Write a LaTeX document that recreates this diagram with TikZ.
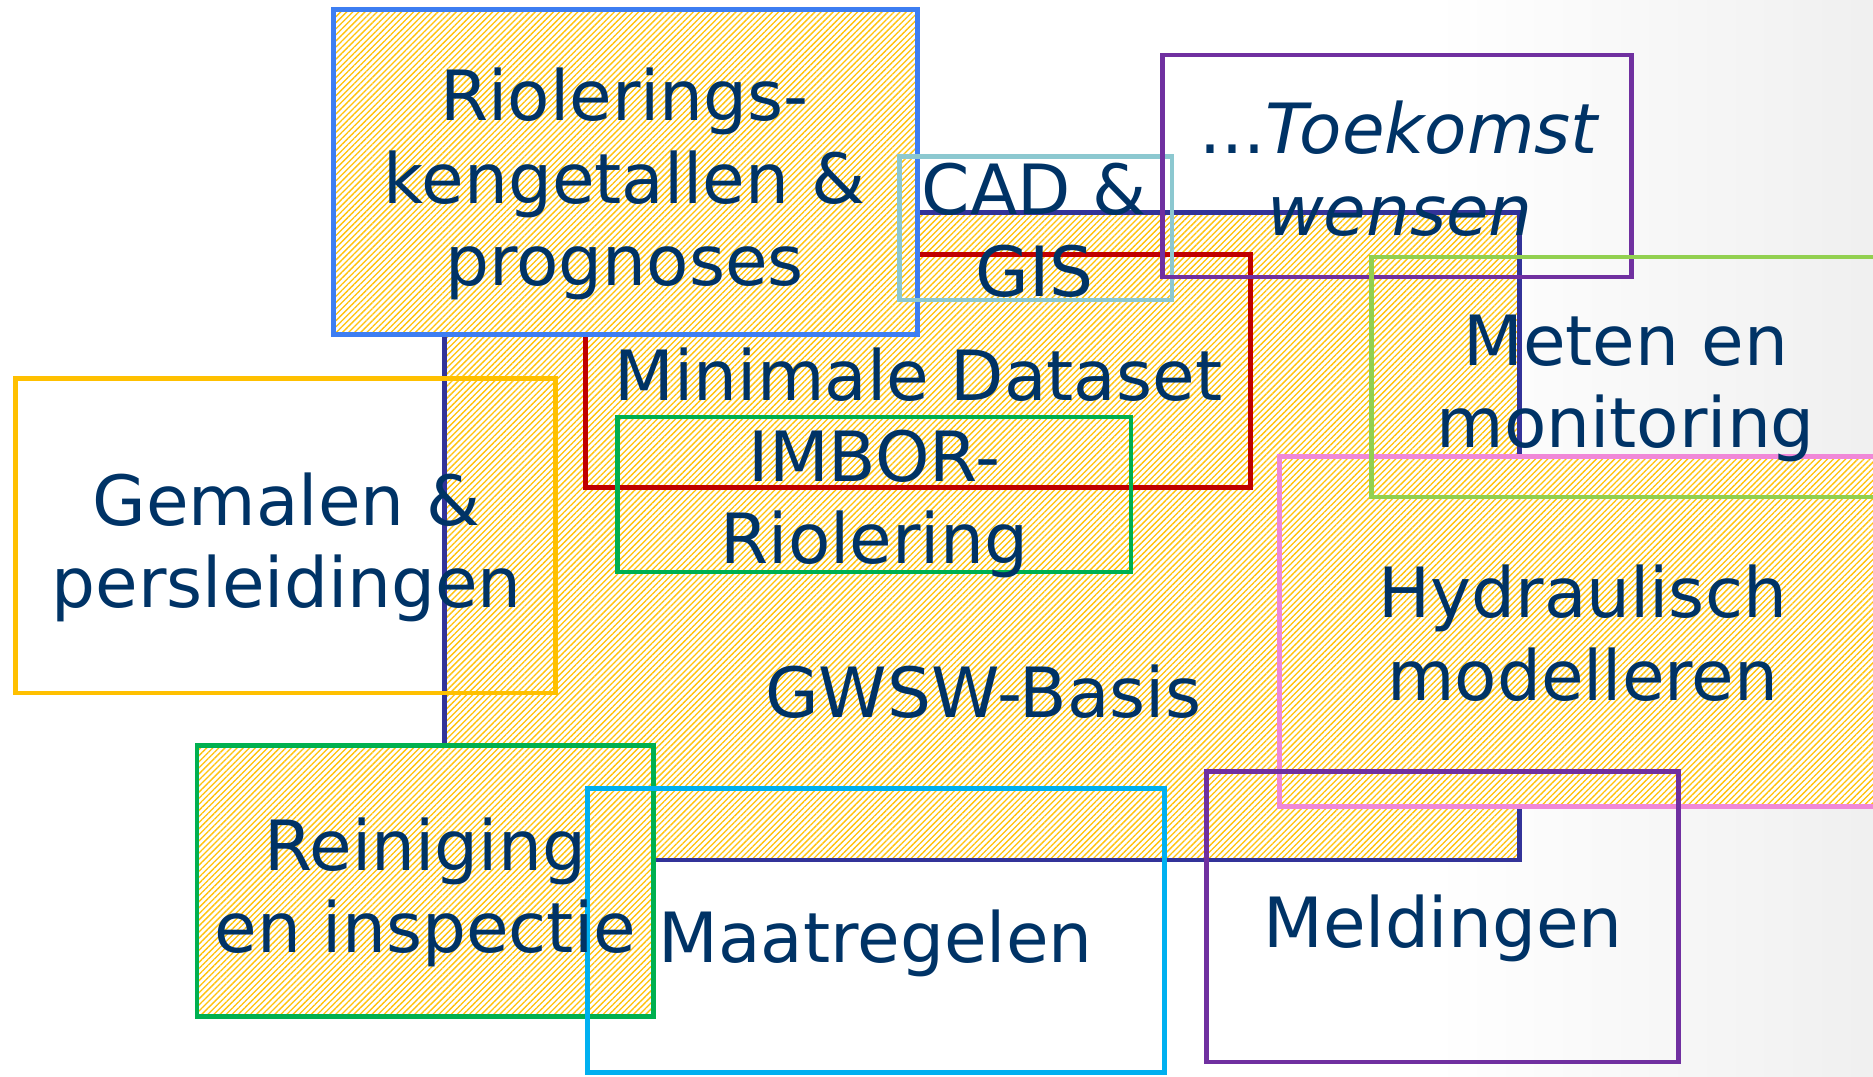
\documentclass[tikz,border=0pt]{standalone}
\usepackage{fontspec}
\setmainfont{DejaVu Sans}
\usetikzlibrary{patterns.meta}

\definecolor{tekst}{HTML}{003366}
\definecolor{goud}{HTML}{FFC20A}
\definecolor{cblauw}{HTML}{3D7EF2}
\definecolor{cindigo}{HTML}{333399}
\definecolor{crood}{HTML}{C00000}
\definecolor{cgroen}{HTML}{00B050}
\definecolor{cteal}{HTML}{8CC8D0}
\definecolor{cpaars}{HTML}{7030A0}
\definecolor{clicht}{HTML}{92D050}
\definecolor{croze}{HTML}{F088D8}
\definecolor{coranje}{HTML}{FFC000}
\definecolor{ccyaan}{HTML}{00B0F0}

\begin{document}
\begin{tikzpicture}[x=0.5pt,y=-0.5pt,line width=1.9pt,
    hatch/.style={preaction={fill=white},pattern={Lines[angle=45,distance=1.8pt,line width=0.55pt]},pattern color=goud},
    lbl/.style={text=tekst,font=\fontsize{29}{34.5}\selectfont,align=center,inner sep=0pt}]
\useasboundingbox (0,0) rectangle (1568,901);
% achtergrond
\shade[left color=white,right color=gray!12] (1200,0) rectangle (1568,901);

% basis en binnenblokken
\draw[hatch,draw=cindigo] (372,178) rectangle (1272,720);
\draw[crood] (490,213) rectangle (1047,408);
\draw[cgroen] (517,349) rectangle (947,479);
\draw[hatch,draw=cblauw] (279,8) rectangle (768,280);
\draw[cteal] (753,131) rectangle (981,251);
\draw[cpaars] (973,46) rectangle (1366,232);
\draw[hatch,draw=croze] (1071,382) rectangle (1600,675);
\draw[clicht] (1148,215) rectangle (1600,416);
\draw[coranje] (13,317) rectangle (465,580);
\draw[hatch,draw=cgroen] (165,624) rectangle (547,851);
\draw[ccyaan] (492,660) rectangle (975,898);
\draw[cpaars] (1010,646) rectangle (1405,889);

% teksten
\node[lbl] (kengetallen) at (523,154) {Riolerings-\\kengetallen \&\\prognoses};
\node[lbl] (cadgis) at (866,193) {CAD \&\\GIS};
\node[lbl] (toekomst) at (1172,141) {...\textit{Toekomst}\\\textit{wensen}};
\node[lbl,anchor=base] (dataset) at (769,335) {Minimale Dataset};
\node[lbl] (imbor) at (732,422) {IMBOR-\\Riolering};
\node[lbl] (meten) at (1361,325) {Meten en\\monitoring};
\node[lbl] (gemalen) at (240,458) {Gemalen \&\\persleidingen};
\node[lbl,anchor=base] (basis) at (823,601) {GWSW-Basis};
\node[lbl] (hydraulisch) at (1325,530) {Hydraulisch\\modelleren};
\node[lbl] (reiniging) at (356,747) {Reiniging\\en inspectie};
\node[lbl,anchor=base] (maatregelen) at (733,806) {Maatregelen};
\node[lbl,anchor=base] (meldingen) at (1208,793) {Meldingen};
\end{tikzpicture}
\end{document}
